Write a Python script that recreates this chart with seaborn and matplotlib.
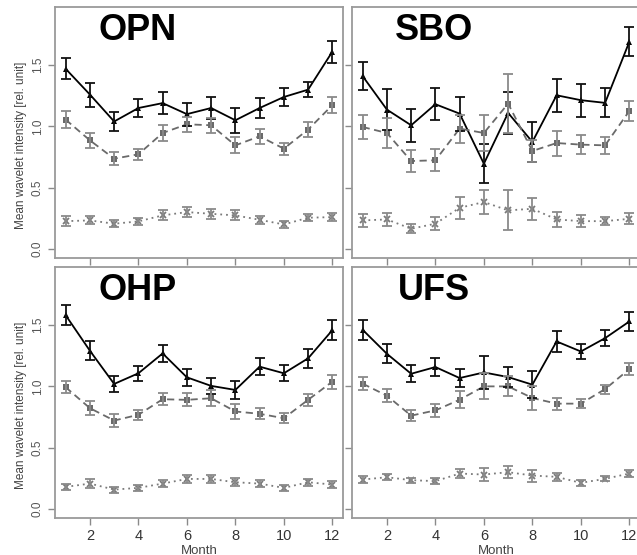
import pandas as pd
import matplotlib
matplotlib.use("Agg")
import matplotlib.pyplot as plt
import seaborn as sns

months = list(range(1, 13))
stations = ["OPN", "SBO", "OHP", "UFS"]
series_names = ["high", "mid", "low"]

# mean values and half-widths of the error bars
opn_high = [1.47, 1.26, 1.04, 1.15, 1.19, 1.10, 1.15, 1.05, 1.15, 1.24, 1.30, 1.61]
opn_high_err = [0.086, 0.098, 0.080, 0.071, 0.089, 0.093, 0.091, 0.102, 0.078, 0.070, 0.059, 0.090]
opn_mid = [1.055, 0.886, 0.736, 0.772, 0.946, 1.017, 1.009, 0.845, 0.919, 0.818, 0.974, 1.173]
opn_mid_err = [0.068, 0.064, 0.055, 0.045, 0.064, 0.059, 0.061, 0.065, 0.061, 0.050, 0.061, 0.063]
opn_low = [0.226, 0.232, 0.205, 0.224, 0.273, 0.300, 0.286, 0.273, 0.237, 0.199, 0.254, 0.259]
opn_low_err = [0.041, 0.033, 0.027, 0.027, 0.041, 0.044, 0.041, 0.041, 0.034, 0.025, 0.027, 0.030]

sbo_high = [1.41, 1.137, 1.009, 1.181, 1.104, 0.695, 1.11, 0.873, 1.254, 1.214, 1.192, 1.691]
sbo_high_err = [0.116, 0.166, 0.136, 0.132, 0.139, 0.157, 0.173, 0.164, 0.134, 0.134, 0.119, 0.117]
sbo_mid = [0.995, 0.946, 0.717, 0.723, 0.982, 0.946, 1.186, 0.799, 0.864, 0.851, 0.845, 1.126]
sbo_mid_err = [0.100, 0.123, 0.089, 0.089, 0.115, 0.146, 0.240, 0.089, 0.102, 0.078, 0.068, 0.078]
sbo_low = [0.232, 0.240, 0.164, 0.205, 0.335, 0.382, 0.314, 0.327, 0.240, 0.226, 0.226, 0.245]
sbo_low_err = [0.052, 0.050, 0.038, 0.052, 0.089, 0.098, 0.164, 0.090, 0.061, 0.048, 0.034, 0.044]

ohp_high = [1.581, 1.291, 1.02, 1.107, 1.269, 1.074, 1.004, 0.971, 1.161, 1.107, 1.229, 1.459]
ohp_high_err = [0.081, 0.077, 0.068, 0.061, 0.068, 0.068, 0.068, 0.075, 0.072, 0.064, 0.077, 0.084]
ohp_mid = [0.993, 0.822, 0.721, 0.768, 0.895, 0.890, 0.903, 0.795, 0.776, 0.740, 0.890, 1.039]
ohp_mid_err = [0.050, 0.058, 0.054, 0.043, 0.047, 0.054, 0.065, 0.065, 0.045, 0.041, 0.049, 0.058]
ohp_low = [0.179, 0.206, 0.157, 0.171, 0.206, 0.244, 0.244, 0.217, 0.206, 0.171, 0.217, 0.198]
ohp_low_err = [0.027, 0.034, 0.024, 0.024, 0.027, 0.031, 0.031, 0.034, 0.027, 0.024, 0.027, 0.027]

ufs_high = [1.462, 1.266, 1.103, 1.158, 1.068, 1.114, 1.076, 1.014, 1.367, 1.285, 1.394, 1.53]
ufs_high_err = [0.084, 0.077, 0.068, 0.077, 0.077, 0.136, 0.084, 0.109, 0.085, 0.065, 0.065, 0.081]
ufs_mid = [1.022, 0.924, 0.761, 0.804, 0.891, 1.0, 1.0, 0.905, 0.859, 0.859, 0.978, 1.141]
ufs_mid_err = [0.054, 0.054, 0.047, 0.052, 0.068, 0.106, 0.081, 0.098, 0.050, 0.037, 0.037, 0.052]
ufs_low = [0.239, 0.258, 0.234, 0.226, 0.288, 0.280, 0.299, 0.272, 0.261, 0.212, 0.245, 0.288]
ufs_low_err = [0.027, 0.023, 0.020, 0.023, 0.037, 0.050, 0.047, 0.049, 0.034, 0.022, 0.020, 0.027]

station_data = {
    "OPN": [(opn_high, opn_high_err), (opn_mid, opn_mid_err), (opn_low, opn_low_err)],
    "SBO": [(sbo_high, sbo_high_err), (sbo_mid, sbo_mid_err), (sbo_low, sbo_low_err)],
    "OHP": [(ohp_high, ohp_high_err), (ohp_mid, ohp_mid_err), (ohp_low, ohp_low_err)],
    "UFS": [(ufs_high, ufs_high_err), (ufs_mid, ufs_mid_err), (ufs_low, ufs_low_err)],
}

rows = []
for st in stations:
    for name, (vals, errs) in zip(series_names, station_data[st]):
        for m, v, e in zip(months, vals, errs):
            rows.append({"station": st, "series": name, "month": m, "value": v, "err": e})
df = pd.DataFrame(rows)

sns.set_style("white")
plt.rcParams['font.family'] = ['Liberation Sans', 'DejaVu Sans']

line_colors = {"high": "#000000", "mid": "#6a6a6a", "low": "#7a7a7a"}
bar_colors = {"high": "#111111", "mid": "#8a8a8a", "low": "#8a8a8a"}
markers = {"high": "^", "mid": "s", "low": "x"}
dashes = {"high": (None, None), "mid": (0, (4, 2.5)), "low": (0, (1, 2.2))}

fig = plt.figure(figsize=(6.37, 5.55), dpi=100)
W, H = 637, 555
boxes = {
    "OPN": (55, 7), "SBO": (352, 7),
    "OHP": (55, 267), "UFS": (352, 267),
}
pw, ph = 288, 251

for st in stations:
    x0, y0 = boxes[st]
    ax = fig.add_axes([x0 / W, 1 - (y0 + ph) / H, pw / W, ph / H])
    sub = df[df["station"] == st]
    for name in series_names:
        s = sub[sub["series"] == name]
        ls = "-" if name == "high" else dashes[name]
        sns.lineplot(data=s, x="month", y="value", color=line_colors[name],
                     marker=markers[name], linestyle=ls, linewidth=1.3,
                     markersize=5, markeredgewidth=1.3 if name == "low" else 0,
                     markeredgecolor=line_colors[name], ax=ax)
        ax.errorbar(s["month"], s["value"], yerr=s["err"], fmt="none",
                    ecolor=bar_colors[name], elinewidth=1.3, capsize=3.6,
                    capthick=1.3, zorder=3)

    ax.set_xlim(0.56, 12.44)
    ax.set_ylim(-0.075, 1.975)
    ax.set_xticks([2, 4, 6, 8, 10, 12])
    ax.set_yticks([0, 0.5, 1.0, 1.5])
    for sp in ax.spines.values():
        sp.set_color("#9a9a9a")
        sp.set_linewidth(1.3)
    ax.tick_params(axis="both", length=5, width=1.0, color="#8a8a8a",
                   bottom=True, left=True)
    ax.tick_params(axis="x", pad=3, labelsize=10.5, labelcolor="#333333")
    ax.tick_params(axis="y", pad=3, labelsize=8.5, labelcolor="#555555")

    left = st in ("OPN", "OHP")
    bottom = st in ("OHP", "UFS")
    if left:
        ax.set_yticklabels(["0.0", "0.5", "1.0", "1.5"], rotation=90, va="center")
        ax.set_ylabel("Mean wavelet intensity [rel. unit]", fontsize=8.5, color="#444444")
        ax.yaxis.set_label_coords(-0.098, 0.45)
    else:
        ax.set_yticklabels([])
        ax.set_ylabel("")
    if bottom:
        ax.set_xlabel("Month", fontsize=9.5, color="#444444", labelpad=1)
    else:
        ax.set_xticklabels([])
        ax.set_xlabel("")

    ax.text(0.285, 0.908, st, transform=ax.transAxes, ha="center", va="center",
            fontsize=26, fontweight="bold", color="black")

fig.savefig("out.png", dpi=100)
